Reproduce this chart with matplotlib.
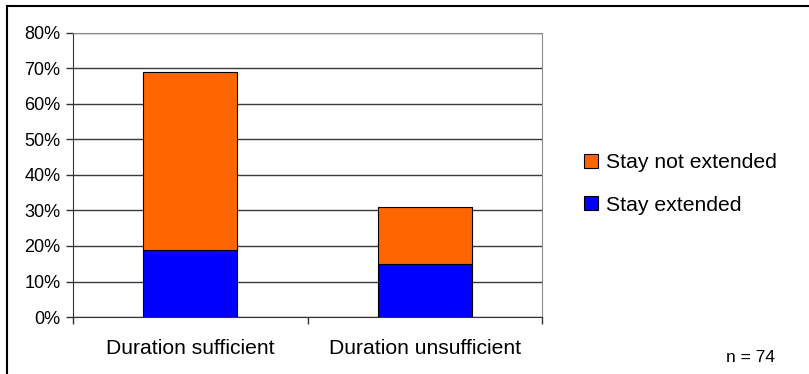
import matplotlib.pyplot as plt
from matplotlib.lines import Line2D
from matplotlib.ticker import FixedLocator, PercentFormatter

plt.rcParams["font.family"] = ["Liberation Sans", "DejaVu Sans"]

categories = ["Duration sufficient", "Duration unsufficient"]
stay_extended = [18.9, 14.9]
stay_not_extended = [50.0, 16.2]
n_total = 74

BLUE = "#0000FF"
ORANGE = "#FF6600"
GRID = "#3a3a3a"

W, H = 809, 374
fig = plt.figure(figsize=(W / 100, H / 100), dpi=100)
ax = fig.add_axes([73 / W, 1 - 317 / H, (542 - 73) / W, (317 - 33) / H])

x = list(range(len(categories)))
ax.bar(x, stay_extended, width=0.4, color=BLUE, edgecolor="black", linewidth=0.8,
       label="Stay extended", zorder=3)
ax.bar(x, stay_not_extended, width=0.4, bottom=stay_extended, color=ORANGE,
       edgecolor="black", linewidth=0.8, label="Stay not extended", zorder=3)

ax.set_xlim(-0.5, len(categories) - 0.5)
ax.set_ylim(0, 80)
ax.yaxis.set_major_locator(FixedLocator(range(0, 81, 10)))
ax.yaxis.set_major_formatter(PercentFormatter(decimals=0))
ax.grid(axis="y", color=GRID, linewidth=1, zorder=0)

ax.xaxis.set_major_locator(FixedLocator([i - 0.5 for i in range(len(categories) + 1)]))
ax.xaxis.set_minor_locator(FixedLocator(x))
ax.set_xticklabels([], minor=False)
ax.set_xticklabels(categories, minor=True)
ax.tick_params(axis="x", which="major", length=5, width=1, color="#333333", direction="out")
ax.tick_params(axis="x", which="minor", length=0, pad=16, labelsize=15.2)
ax.tick_params(axis="y", length=5, width=1, color="#333333", labelsize=13, pad=4)

for side in ["left", "bottom"]:
    ax.spines[side].set_color("#333333")
ax.spines["right"].set_color("#8c8c8c")
ax.spines["top"].set_color("#8c8c8c")

handles, labels = ax.get_legend_handles_labels()
fig.legend(handles[::-1], labels[::-1], loc="center left",
           bbox_to_anchor=(565 / W, 1 - 184 / H), frameon=False, fontsize=15.2,
           handlelength=0.65, handleheight=0.65, handletextpad=0.4, labelspacing=1.12)

fig.text(775 / W, 1 - 357 / H, f"n = {n_total}", ha="right", va="center", fontsize=12.5)

# outer frame (only top and left visible in the reference)
fig.add_artist(Line2D([7 / W, 1], [1 - 5.5 / H] * 2, transform=fig.transFigure,
                      color="black", linewidth=1.5))
fig.add_artist(Line2D([7 / W] * 2, [0, 1 - 5.5 / H], transform=fig.transFigure,
                      color="black", linewidth=1.5))

fig.savefig("out.png", dpi=100, facecolor="white")
